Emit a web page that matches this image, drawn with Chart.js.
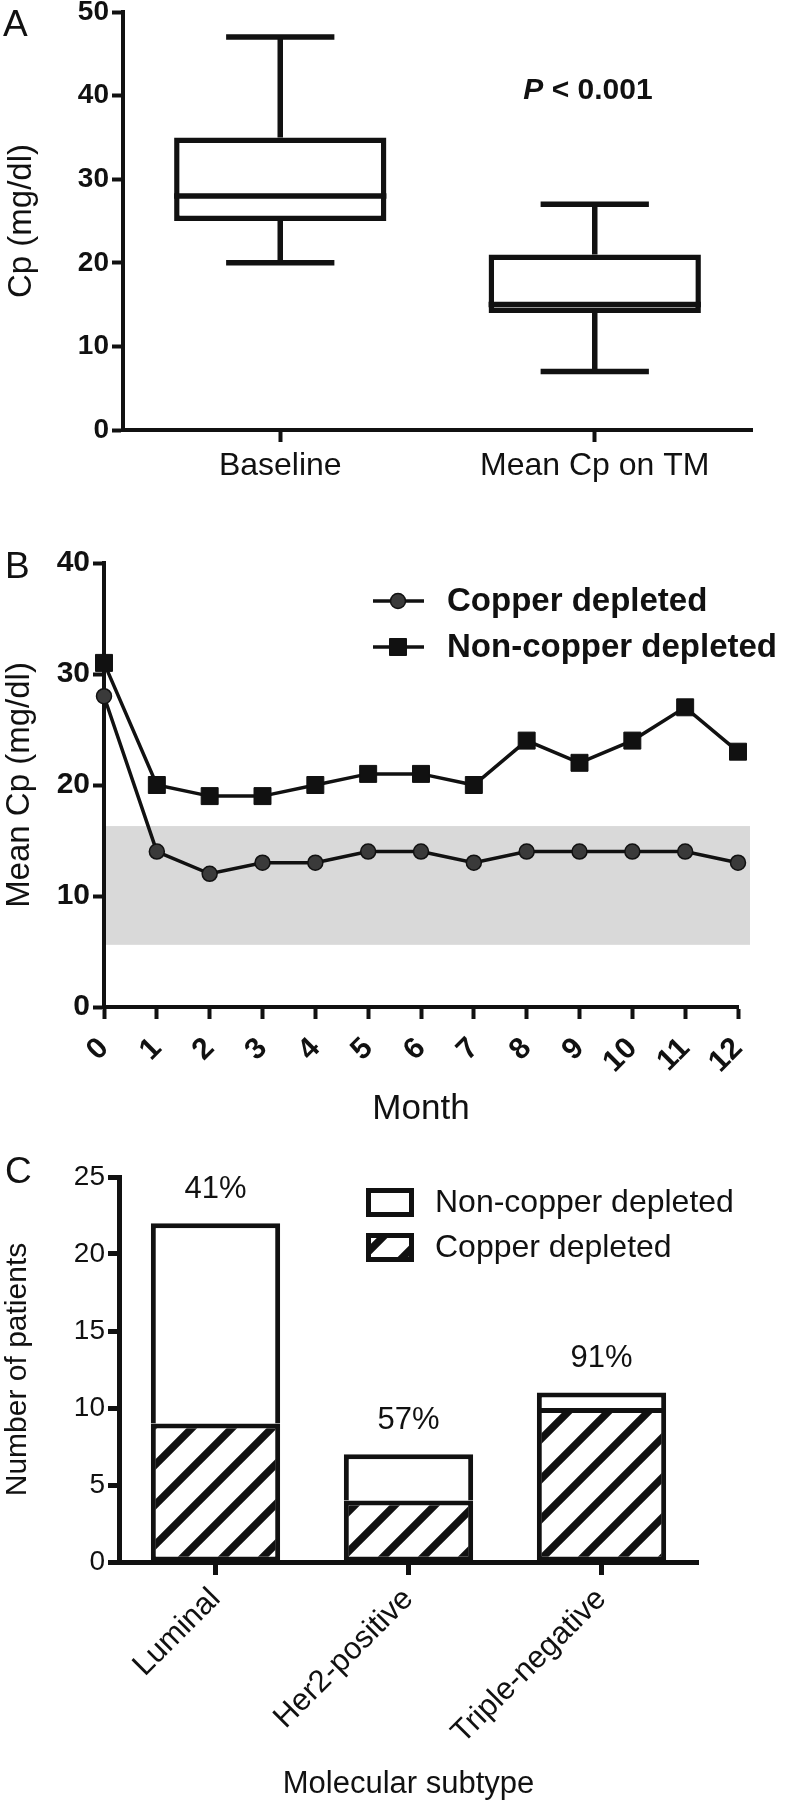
<!DOCTYPE html>
<html>
<head>
<meta charset="utf-8">
<script src="https://cdn.jsdelivr.net/npm/chart.js@4.4.1/dist/chart.umd.min.js"></script>
<style>
  html, body { margin: 0; padding: 0; background: #fff; }
  #page { position: relative; width: 792px; height: 1800px; overflow: hidden; font-family: 'Liberation Sans', Arial, sans-serif; }
  .panel { position: absolute; left: 0; }
  .tag { position: absolute; font-size: 37px; line-height: 1; color: #111; }
</style>
</head>
<body>
<div id="page">
  <canvas id="chartA" class="panel" width="792" height="510" style="top:-10px"></canvas>
  <canvas id="chartB" class="panel" width="792" height="620" style="top:520px"></canvas>
  <canvas id="chartC" class="panel" width="792" height="660" style="top:1140px"></canvas>
  <div class="tag" style="left:3px;top:5px">A</div>
  <div class="tag" style="left:5px;top:547px">B</div>
  <div class="tag" style="left:5px;top:1152px">C</div>
</div>
<script>
// Panel A - Cp box plot (mg/dl)
const boxCategories = ['Baseline', 'Mean Cp on TM'];
const boxMin = [20, 7];
const boxQ1 = [25, 14];
const boxMedian = [28, 15];
const boxQ3 = [35, 21];
const boxMax = [47, 27];

// Panel B - mean Cp by month
const months = [0, 1, 2, 3, 4, 5, 6, 7, 8, 9, 10, 11, 12];
const copperDepleted = [28, 14, 12, 13, 13, 14, 14, 13, 14, 14, 14, 14, 13];
const nonCopperDepleted = [31, 20, 19, 19, 20, 21, 21, 20, 24, 22, 24, 27, 23];
const targetRange = [5.6, 16.3];

// Panel C - patients by molecular subtype
const subtypes = ['Luminal', 'Her2-positive', 'Triple-negative'];
const copperCounts = [9, 4, 10];
const nonCopperCounts = [13, 3, 1];
const percentLabels = ['41%', '57%', '91%'];

const INK = '#111';
const FAMILY = "'Liberation Sans', Arial, sans-serif";
Chart.defaults.font.family = FAMILY;
Chart.defaults.color = INK;

const tickGrid = (len, w) => ({
  display: true, drawOnChartArea: false, offset: false,
  tickLength: len, tickWidth: w, tickColor: INK
});
const noPlugins = { legend: { display: false }, tooltip: { enabled: false } };

// ---------- A ----------
const boxWhiskers = {
  id: 'boxWhiskers',
  afterDatasetsDraw(chart) {
    const { ctx, scales: { y } } = chart;
    const bars = chart.getDatasetMeta(0).data;
    ctx.save();
    ctx.strokeStyle = INK;
    ctx.lineWidth = 5.5;
    bars.forEach((bar, i) => {
      const half = bar.width / 2;
      const cap = half * 0.51;
      const yMed = y.getPixelForValue(boxMedian[i]);
      ctx.beginPath();
      ctx.moveTo(bar.x - half, yMed);
      ctx.lineTo(bar.x + half, yMed);
      // upper whisker
      ctx.moveTo(bar.x, y.getPixelForValue(boxQ3[i]));
      ctx.lineTo(bar.x, y.getPixelForValue(boxMax[i]));
      ctx.moveTo(bar.x - cap, y.getPixelForValue(boxMax[i]));
      ctx.lineTo(bar.x + cap, y.getPixelForValue(boxMax[i]));
      // lower whisker
      ctx.moveTo(bar.x, y.getPixelForValue(boxQ1[i]));
      ctx.lineTo(bar.x, y.getPixelForValue(boxMin[i]));
      ctx.moveTo(bar.x - cap, y.getPixelForValue(boxMin[i]));
      ctx.lineTo(bar.x + cap, y.getPixelForValue(boxMin[i]));
      ctx.stroke();
    });
    // P value note
    ctx.fillStyle = INK;
    ctx.textBaseline = 'middle';
    const italic = 'italic bold 30px ' + FAMILY, bold = 'bold 30px ' + FAMILY;
    const rest = ' < 0.001';
    ctx.font = italic;
    const wP = ctx.measureText('P').width;
    ctx.font = bold;
    const wR = ctx.measureText(rest).width;
    const x0 = 588 - (wP + wR) / 2, ty = 101;
    ctx.font = italic;
    ctx.fillText('P', x0, ty);
    ctx.font = bold;
    ctx.fillText(rest, x0 + wP, ty);
    ctx.restore();
  }
};

new Chart(document.getElementById('chartA'), {
  type: 'bar',
  data: {
    labels: boxCategories,
    datasets: [{
      data: boxQ1.map((q, i) => [q, boxQ3[i]]),
      backgroundColor: '#fff',
      borderColor: INK,
      borderWidth: 5.5,
      borderSkipped: false,
      barPercentage: 0.675,
      categoryPercentage: 1
    }]
  },
  options: {
    responsive: false, animation: false, events: [],
    layout: { padding: { left: 0, top: 22, right: 40, bottom: 0 } },
    plugins: noPlugins,
    scales: {
      x: {
        grid: tickGrid(12, 4),
        border: { color: INK, width: 4 },
        ticks: { color: INK, font: { size: 32 }, padding: 5 },
        afterFit: s => { s.height = 70; }
      },
      y: {
        min: 0, max: 50,
        grid: tickGrid(11, 4),
        border: { color: INK, width: 4 },
        ticks: { stepSize: 10, color: INK, font: { size: 28, weight: 'bold' }, padding: 3 },
        title: { display: true, text: 'Cp (mg/dl)', color: INK, font: { size: 33 }, padding: { top: 2, bottom: 0 } },
        afterFit: s => { s.width = 123; }
      }
    }
  },
  plugins: [boxWhiskers]
});

// ---------- B ----------
const rangeBand = {
  id: 'rangeBand',
  beforeDatasetsDraw(chart) {
    const { ctx, chartArea, scales: { y } } = chart;
    const top = y.getPixelForValue(targetRange[1]);
    const bottom = y.getPixelForValue(targetRange[0]);
    ctx.save();
    ctx.fillStyle = '#d9d9d9';
    ctx.fillRect(chartArea.left + 2, top, chartArea.right + 12 - chartArea.left - 2, bottom - top);
    ctx.restore();
  }
};

const lineLegend = {
  id: 'lineLegend',
  afterDraw(chart) {
    const { ctx } = chart;
    ctx.save();
    chart.data.datasets.forEach((ds, i) => {
      const y = 81 + i * 46;
      ctx.strokeStyle = INK;
      ctx.lineWidth = 3.5;
      ctx.beginPath();
      ctx.moveTo(373, y);
      ctx.lineTo(424, y);
      ctx.stroke();
      ctx.fillStyle = ds.pointBackgroundColor;
      ctx.lineWidth = ds.pointBorderWidth;
      Chart.helpers.drawPoint(ctx, { pointStyle: ds.pointStyle, radius: ds.pointRadius, borderWidth: ds.pointBorderWidth }, 398, y);
      ctx.fillStyle = INK;
      ctx.font = 'bold 33px ' + FAMILY;
      ctx.textBaseline = 'middle';
      ctx.fillText(ds.label, 447, y + 1);
    });
    ctx.restore();
  }
};

new Chart(document.getElementById('chartB'), {
  type: 'line',
  data: {
    datasets: [{
      label: 'Copper depleted',
      data: months.map((m, i) => ({ x: m, y: copperDepleted[i] })),
      borderColor: INK, borderWidth: 3.5,
      pointStyle: 'circle', pointRadius: 7.5,
      pointBackgroundColor: '#3a3a3a', pointBorderColor: INK, pointBorderWidth: 1.5,
      clip: false
    }, {
      label: 'Non-copper depleted',
      data: months.map((m, i) => ({ x: m, y: nonCopperDepleted[i] })),
      borderColor: INK, borderWidth: 3.5,
      pointStyle: 'rect', pointRadius: 12,
      pointBackgroundColor: INK, pointBorderColor: INK, pointBorderWidth: 1,
      clip: false
    }]
  },
  options: {
    responsive: false, animation: false, events: [],
    layout: { padding: { left: 0, top: 43, right: 54, bottom: 0 } },
    plugins: noPlugins,
    scales: {
      x: {
        type: 'linear', min: 0, max: 12,
        grid: tickGrid(12, 4),
        border: { color: INK, width: 4 },
        ticks: { stepSize: 1, color: INK, font: { size: 30, weight: 'bold' }, minRotation: 45, maxRotation: 45, padding: 12 },
        title: { display: true, text: 'Month', color: INK, font: { size: 35 }, padding: { top: 0, bottom: 10 } },
        afterFit: s => { s.height = 133; }
      },
      y: {
        min: 0, max: 40,
        grid: tickGrid(11, 4),
        border: { color: INK, width: 4 },
        ticks: { stepSize: 10, color: INK, font: { size: 30, weight: 'bold' }, padding: 3 },
        title: { display: true, text: 'Mean Cp (mg/dl)', color: INK, font: { size: 33 }, padding: { top: 0, bottom: 0 } },
        afterFit: s => { s.width = 104; }
      }
    }
  },
  plugins: [rangeBand, lineLegend]
});

// ---------- C ----------
const ctxC = document.getElementById('chartC').getContext('2d');
// diagonal "/" hatch; lines run past the tile edges so the tiles join cleanly
function makeHatch(target) {
  const s = 40;
  const c = document.createElement('canvas');
  c.width = c.height = s;
  const g = c.getContext('2d');
  g.fillStyle = '#fff';
  g.fillRect(0, 0, s, s);
  g.strokeStyle = INK;
  g.lineWidth = 7.5;
  g.lineCap = 'square';
  g.beginPath();
  for (let k = -1; k <= 1; k++) {
    g.moveTo(k * s - s, 2 * s);
    g.lineTo(k * s + 2 * s, -s);
  }
  g.stroke();
  return target.createPattern(c, 'repeat');
}
const hatch = makeHatch(ctxC);

const barNotes = {
  id: 'barNotes',
  afterDraw(chart) {
    const { ctx } = chart;
    const tops = chart.getDatasetMeta(1).data;
    ctx.save();
    ctx.fillStyle = INK;
    ctx.font = '31px ' + FAMILY;
    ctx.textAlign = 'center';
    ctx.textBaseline = 'middle';
    tops.forEach((bar, i) => ctx.fillText(percentLabels[i], bar.x, bar.y - 34));
    // legend
    ctx.textAlign = 'left';
    ctx.font = '32px ' + FAMILY;
    [1, 0].forEach((d, row) => {
      const ds = chart.data.datasets[d];
      const y = 48 + row * 45;
      ctx.fillStyle = ds.backgroundColor;
      ctx.fillRect(368, y + 2, 44, 25);
      ctx.strokeStyle = INK;
      ctx.lineWidth = 5;
      ctx.strokeRect(368.5, y + 2.5, 43, 24);
      ctx.fillStyle = INK;
      ctx.fillText(ds.label, 435, y + 15);
    });
    ctx.restore();
  }
};

new Chart(ctxC, {
  type: 'bar',
  data: {
    labels: subtypes,
    datasets: [{
      label: 'Copper depleted',
      data: copperCounts,
      backgroundColor: hatch,
      borderColor: INK,
      borderWidth: 5,
      borderSkipped: false
    }, {
      label: 'Non-copper depleted',
      data: nonCopperCounts,
      backgroundColor: '#fff',
      borderColor: INK,
      borderWidth: { top: 5, left: 5, right: 5, bottom: 0 },
      borderSkipped: false
    }]
  },
  options: {
    responsive: false, animation: false, events: [],
    layout: { padding: { left: 0, top: 37, right: 94, bottom: 0 } },
    plugins: noPlugins,
    datasets: { bar: { barPercentage: 0.67, categoryPercentage: 1 } },
    scales: {
      x: {
        stacked: true,
        grid: tickGrid(13, 5),
        border: { color: INK, width: 5 },
        ticks: { color: INK, font: { size: 31 }, minRotation: 45, maxRotation: 45, padding: 6 },
        title: { display: true, text: 'Molecular subtype', color: INK, font: { size: 31, lineHeight: 1 }, padding: { top: 0, bottom: 0 } },
        afterFit: s => { s.height = 238; }
      },
      y: {
        stacked: true, min: 0, max: 25,
        grid: tickGrid(11, 5),
        border: { color: INK, width: 5 },
        ticks: { stepSize: 5, color: INK, font: { size: 28 }, padding: 3 },
        title: { display: true, text: 'Number of patients', color: INK, font: { size: 30 }, padding: { top: 0, bottom: 0 } },
        afterFit: s => { s.width = 119; }
      }
    }
  },
  plugins: [barNotes]
});
</script>
</body>
</html>
